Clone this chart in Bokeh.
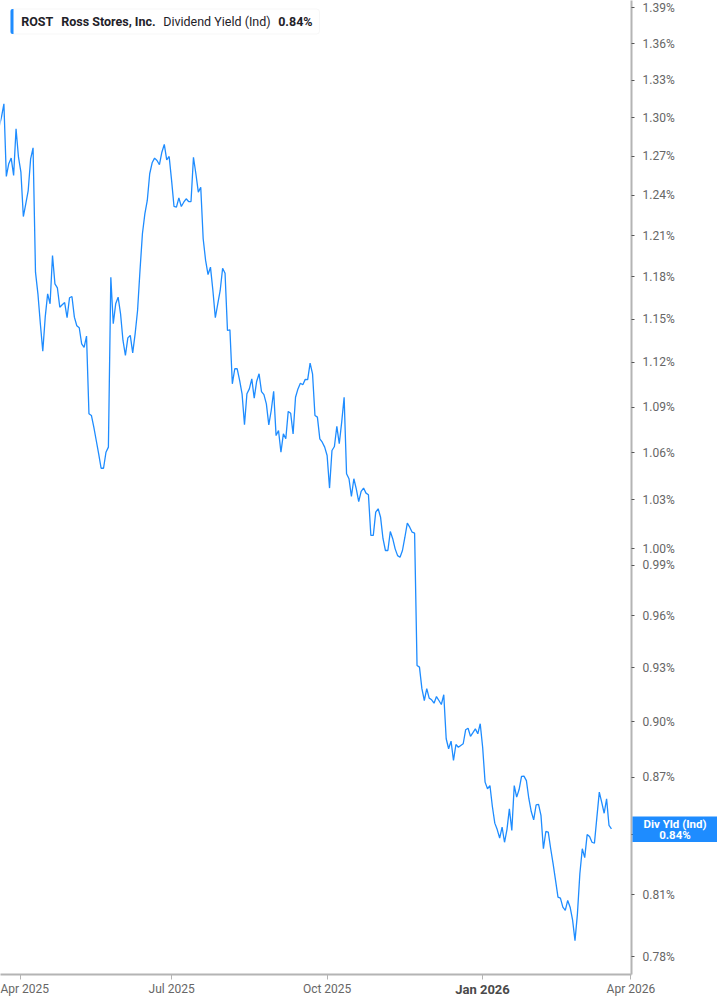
import numpy as np
import pandas as pd
from bokeh.plotting import figure
from bokeh.models import (ColumnDataSource, Range1d, FixedTicker, PrintfTickFormatter,
                          Label, BoxAnnotation)
from bokeh.embed import file_html
from bokeh.resources import INLINE

# ---------------- data ----------------
ticker_symbol = "ROST"
company = "Ross Stores, Inc."
metric = "Dividend Yield (Ind)"
badge_title = "Div Yld (Ind)"

# daily indicated dividend yield, %, trading days from 2025-03-19
div_yield = [
    1.2925, 1.3004, 1.3111, 1.2543, 1.2641, 1.2684, 1.2551, 1.2913, 1.2691, 1.2576,
    1.2241, 1.2336, 1.2436, 1.2679, 1.2764, 1.1833, 1.1678, 1.1467, 1.1277, 1.1513,
    1.1678, 1.1607, 1.1954, 1.1749, 1.1721, 1.1583, 1.1600, 1.1616, 1.1509, 1.1650,
    1.1659, 1.1513, 1.1453, 1.1439, 1.1328, 1.1304, 1.1381, 1.0855, 1.0844, 1.0767,
    1.0680, 1.0594, 1.0501, 1.0501, 1.0604, 1.0637, 1.1797, 1.1467, 1.1607, 1.1654,
    1.1537, 1.1351, 1.1248, 1.1369, 1.1386, 1.1266, 1.1397, 1.1560, 1.1845, 1.2113,
    1.2261, 1.2361, 1.2564, 1.2648, 1.2684, 1.2666, 1.2633, 1.2730, 1.2790, 1.2671,
    1.2697, 1.2513, 1.2316, 1.2311, 1.2381, 1.2316, 1.2348, 1.2374, 1.2353, 1.2353,
    1.2691, 1.2564, 1.2424, 1.2461, 1.2076, 1.1918, 1.1816, 1.1869, 1.1702, 1.1509,
    1.1607, 1.1702, 1.1861, 1.1825, 1.1420, 1.1425, 1.1055, 1.1157, 1.1157, 1.1078,
    1.0988, 1.0784, 1.0988, 1.1021, 1.1089, 1.0959, 1.1071, 1.1123, 1.1003, 1.0983,
    1.0921, 1.0782, 1.0877, 1.1005, 1.0712, 1.0745, 1.0604, 1.0723, 1.0691, 1.0871,
    1.0859, 1.0723, 1.0965, 1.1021, 1.1059, 1.1049, 1.1085, 1.1083, 1.1195, 1.1123,
    1.0844, 1.0833, 1.0691, 1.0669, 1.0637, 1.0583, 1.0375, 1.0615, 1.0641, 1.0772,
    1.0659, 1.0800, 1.0965, 1.0466, 1.0434, 1.0322, 1.0434, 1.0370, 1.0290, 1.0354,
    1.0375, 1.0343, 1.0333, 1.0080, 1.0080, 1.0224, 1.0245, 1.0192, 1.0060, 0.9988,
    0.9988, 1.0104, 1.0060, 0.9998, 0.9957, 0.9947, 0.9988, 1.0069, 1.0156, 1.0131,
    1.0100, 1.0094, 0.9312, 0.9303, 0.9182, 0.9116, 0.9182, 0.9129, 0.9120, 0.9101,
    0.9138, 0.9116, 0.9094, 0.9148, 0.8906, 0.8852, 0.8893, 0.8789, 0.8875, 0.8860,
    0.8870, 0.8879, 0.8955, 0.8963, 0.8919, 0.8939, 0.8960, 0.8933, 0.8988, 0.8860,
    0.8674, 0.8639, 0.8656, 0.8546, 0.8460, 0.8427, 0.8383, 0.8439, 0.8362, 0.8427,
    0.8534, 0.8422, 0.8656, 0.8595, 0.8635, 0.8704, 0.8706, 0.8682, 0.8588, 0.8520,
    0.8477, 0.8554, 0.8557, 0.8500, 0.8329, 0.8417, 0.8414, 0.8329, 0.8253, 0.8170,
    0.8087, 0.8082, 0.8038, 0.8022, 0.8071, 0.8038, 0.7976, 0.7876, 0.8005, 0.8203,
    0.8329, 0.8284, 0.8401, 0.8391, 0.8362, 0.8357, 0.8490, 0.8621, 0.8568, 0.8511,
    0.8586, 0.8448, 0.8431,
]

market_holidays = ["2025-04-18", "2025-05-26", "2025-06-19", "2025-07-04", "2025-09-01",
                   "2025-11-27", "2025-12-25", "2026-01-01", "2026-01-19", "2026-02-16",
                   "2026-04-03"]
first_day = "2025-03-19"

tick_months = ["2025-04-01", "2025-07-01", "2025-10-01", "2026-01-01", "2026-04-01"]
tick_labels = ["Apr 2025", "Jul 2025", "Oct 2025", "Jan 2026", "Apr 2026"]
bold_label = "Jan 2026"

y_ticks = [0.78, 0.81, 0.84, 0.87, 0.90, 0.93, 0.96, 0.99, 1.00, 1.03, 1.06, 1.09,
           1.12, 1.15, 1.18, 1.21, 1.24, 1.27, 1.30, 1.33, 1.36, 1.39]

# ---------------- build ----------------
cal = pd.offsets.CustomBusinessDay(holidays=market_holidays)
trading_days = pd.date_range(first_day, "2026-04-30", freq=cal)
dates = trading_days[:len(div_yield)]
idx = np.arange(len(div_yield))
tick_idx = [int(trading_days.searchsorted(pd.Timestamp(m))) for m in tick_months]

src = ColumnDataSource(dict(x=idx, date=dates, yld=div_yield))

BLUE = "#1e8cff"
AXIS = "#b4b4b4"
TXT = "#666666"

W, H = 717, 1005
p = figure(width=W, height=H,
           x_range=Range1d(0.6, 260.25), y_range=Range1d(0.7715, 1.3962),
           y_axis_type="log", y_axis_location="right",
           output_backend="svg", toolbar_location=None,
           min_border_left=0, min_border_top=0, min_border_right=86, min_border_bottom=31)
p.outline_line_color = None
p.background_fill_color = "white"
p.border_fill_color = "white"
p.grid.visible = False

p.line("x", "yld", source=src, line_color=BLUE, line_width=1.3)

# y axis (right)
ya = p.yaxis[0]
ya.ticker = FixedTicker(ticks=y_ticks, minor_ticks=[])
ya.formatter = PrintfTickFormatter(format="%.2f%%")
ya.axis_line_color = AXIS
ya.axis_line_width = 2
ya.major_tick_line_color = "#555555"
ya.major_tick_out = 3
ya.major_tick_in = 0
ya.minor_tick_line_color = None
ya.major_label_standoff = 8
ya.major_label_text_font = "Roboto"
ya.major_label_text_font_size = "12px"
ya.major_label_text_color = TXT

# x axis
xa = p.xaxis[0]
xa.ticker = FixedTicker(ticks=tick_idx, minor_ticks=[])
xa.major_label_overrides = {i: ("" if lab == bold_label else lab)
                            for i, lab in zip(tick_idx, tick_labels)}
xa.axis_line_color = AXIS
xa.axis_line_width = 2
xa.major_tick_line_color = AXIS
xa.major_tick_out = 5
xa.major_tick_in = 0
xa.minor_tick_line_color = None
xa.major_label_standoff = 2
xa.major_label_text_font = "Roboto"
xa.major_label_text_font_size = "12px"
xa.major_label_text_color = TXT

# legend box (top-left)
p.add_layout(BoxAnnotation(left=10, right=319, top=8.5, bottom=33.5,
                           left_units="canvas", right_units="canvas",
                           top_units="canvas", bottom_units="canvas",
                           fill_color="white", fill_alpha=1,
                           line_color="#e3e3e3", line_width=1, border_radius=3))
p.add_layout(BoxAnnotation(left=10, right=13, top=8.5, bottom=33.5,
                           left_units="canvas", right_units="canvas",
                           top_units="canvas", bottom_units="canvas",
                           fill_color=BLUE, fill_alpha=1, line_color=None,
                           border_radius=(2, 0, 0, 2)))
legend_parts = [(ticker_symbol, 20.7, "bold"), (company, 60.7, "bold"),
                (metric, 162.7, "normal"), (f"{div_yield[-1]:.2f}%", 277.7, "bold")]
for txt, xx, st in legend_parts:
    p.add_layout(Label(x=xx, y=21, x_units="canvas", y_units="canvas", text=txt,
                       text_align="left", text_baseline="middle",
                       text_font="Roboto", text_font_style=st,
                       text_font_size="12.5px", text_color="#1f2229"))


def overlay_fig(w, h, left, top, bg):
    f = figure(width=w, height=h, x_range=Range1d(0, 1), y_range=Range1d(0, 1),
               output_backend="svg", toolbar_location=None,
               x_axis_location=None, y_axis_location=None, min_border=0,
               styles={"position": "absolute", "left": f"{left}px", "top": f"{top}px"})
    f.outline_line_color = None
    f.background_fill_color = bg
    f.border_fill_color = bg
    f.grid.visible = False
    return f


# current value badge on the right axis
badge = overlay_fig(85, 26, 632, 816, BLUE)
for txt, yy in [(badge_title, 7.5), (f"{div_yield[-1]:.2f}%", 18.3)]:
    badge.add_layout(Label(x=42.5, y=yy, x_units="canvas", y_units="canvas", text=txt,
                           text_align="center", text_baseline="middle",
                           text_font="Roboto", text_font_style="bold",
                           text_font_size="11.5px", text_color="white"))

# bold "Jan 2026" tick label
jan = overlay_fig(62, 17, 451, 980, "white")
jan.add_layout(Label(x=31, y=8.5, x_units="canvas", y_units="canvas", text=bold_label,
                     text_align="center", text_baseline="middle",
                     text_font="Roboto", text_font_style="bold",
                     text_font_size="13px", text_color="#4a4a4a"))

open("out.html", "w").write(file_html([p, badge, jan], INLINE))
